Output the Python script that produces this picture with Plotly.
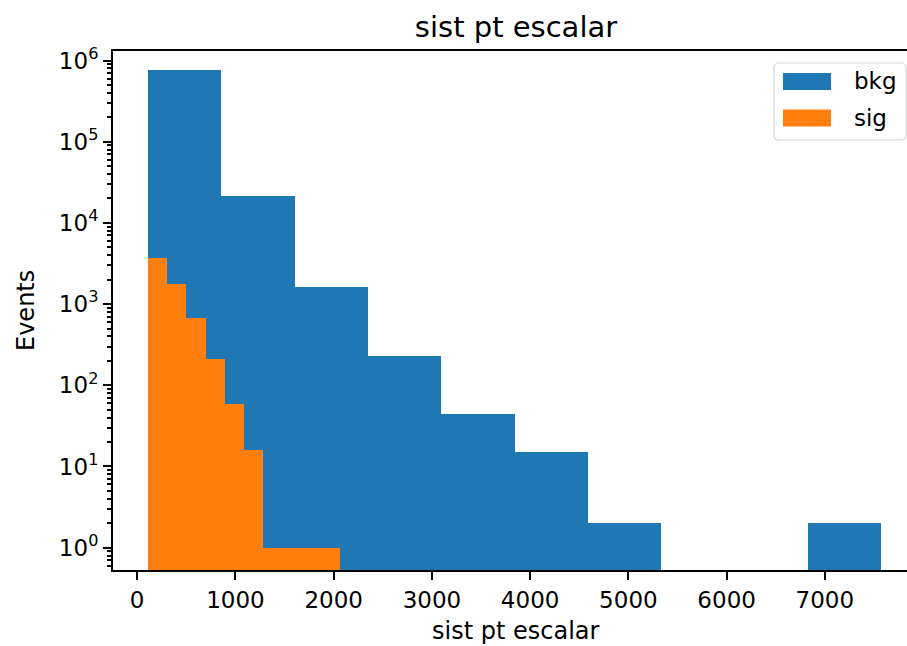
import numpy as np
import plotly.graph_objects as go

# Histogram contents: 10 equal-width bins per sample
bkg_counts = [757000, 21600, 1640, 230, 44, 15, 2, 0, 0, 2]
bkg_range = (110, 7575)
sig_counts = [3660, 1750, 674, 213, 58, 16, 1, 1, 1, 1]
sig_range = (110, 2069)

x_ticks = [0, 1000, 2000, 3000, 4000, 5000, 6000, 7000]
y_exponents = [0, 1, 2, 3, 4, 5, 6]

title_text = "sist pt escalar"
x_label = "sist pt escalar"
y_label = "Events"
series_names = ["bkg", "sig"]
colors = ["#1f77b4", "#ff7f0e"]

W, H = 907, 646
ML, MR, MT, MB = 113, 0, 51, 76
PW, PH = W - ML - MR, H - MT - MB
FONT = "DejaVu Sans"


def bins(counts, rng):
    edges = np.linspace(rng[0], rng[1], len(counts) + 1)
    centers = 0.5 * (edges[:-1] + edges[1:])
    width = edges[1] - edges[0]
    y = [c if c > 0 else None for c in counts]
    return centers, width, y


fig = go.Figure()
for counts, rng, name, col in [(bkg_counts, bkg_range, series_names[0], colors[0]),
                               (sig_counts, sig_range, series_names[1], colors[1])]:
    cx, w, y = bins(counts, rng)
    fig.add_trace(go.Bar(x=cx, y=y, width=w, name=name, showlegend=False,
                         marker=dict(color=col, line=dict(width=0))))


def px(xp):
    return (xp - ML) / PW


def py(yp):
    return 1 - (yp - MT) / PH


# legend box with rounded corners
x0, x1, y0, y1 = 774, 906, 63, 140
r = 5
rx, ry = r / PW, r / PH
X0, X1, Y0, Y1 = px(x0), px(x1), py(y1), py(y0)
path = (f"M{X0+rx},{Y0} L{X1-rx},{Y0} Q{X1},{Y0} {X1},{Y0+ry} L{X1},{Y1-ry} "
        f"Q{X1},{Y1} {X1-rx},{Y1} L{X0+rx},{Y1} Q{X0},{Y1} {X0},{Y1-ry} "
        f"L{X0},{Y0+ry} Q{X0},{Y0} {X0+rx},{Y0} Z")
shapes = [dict(type="path", xref="paper", yref="paper", path=path,
               fillcolor="rgba(255,255,255,0.8)", line=dict(color="#d6d6d6", width=1.2))]
annotations = []
for i, (name, col) in enumerate(zip(series_names, colors)):
    top = 73 + i * 36.5
    shapes.append(dict(type="rect", xref="paper", yref="paper",
                       x0=px(783), x1=px(831), y0=py(top + 17), y1=py(top),
                       fillcolor=col, line=dict(width=0)))
    annotations.append(dict(text=name, xref="paper", yref="paper", x=px(852), y=py(top + 8.5),
                            xanchor="left", yanchor="middle", showarrow=False,
                            font=dict(family=FONT, size=23, color="black")))

# axis titles
annotations.append(dict(text=x_label, xref="paper", yref="paper", x=px(516), y=py(631),
                        xanchor="center", yanchor="middle", showarrow=False,
                        font=dict(family=FONT, size=24, color="black")))
annotations.append(dict(text=y_label, xref="paper", yref="paper", x=px(26), y=py(311),
                        xanchor="center", yanchor="middle", textangle=-90, showarrow=False,
                        font=dict(family=FONT, size=24, color="black")))

minor_vals = [k * 10.0 ** n for n in range(-1, 7) for k in range(2, 10)]

fig.update_layout(
    width=W, height=H,
    margin=dict(l=ML, r=MR, t=MT, b=MB, pad=0),
    paper_bgcolor="white", plot_bgcolor="white",
    barmode="overlay", bargap=0,
    font=dict(family=FONT, size=23, color="black"),
    title=dict(text=title_text, x=516 / W, xanchor="center",
               y=1 - 27 / H, yanchor="middle", yref="container",
               font=dict(family=FONT, size=29, color="black")),
    shapes=shapes, annotations=annotations,
    xaxis=dict(range=[-246, 7836], showgrid=False, zeroline=False,
               showline=True, linecolor="black", linewidth=2, mirror=True,
               ticks="outside", ticklen=8, tickwidth=2, tickcolor="black",
               tickvals=x_ticks, ticktext=[str(v) for v in x_ticks],
               tickfont=dict(family=FONT, size=23, color="black")),
    yaxis=dict(type="log", range=[-0.275, 6.117], showgrid=False, zeroline=False,
               showline=True, linecolor="black", linewidth=2, mirror=False,
               ticks="outside", ticklen=8, tickwidth=2, tickcolor="black",
               tickvals=[10 ** e for e in y_exponents],
               ticktext=[f"10<sup>{e}</sup>" for e in y_exponents],
               tickfont=dict(family=FONT, size=23, color="black"),
               minor=dict(tickvals=minor_vals, ticks="outside", ticklen=4.5,
                          tickwidth=1.5, tickcolor="black", showgrid=False)),
)

fig.write_html("out.html")
